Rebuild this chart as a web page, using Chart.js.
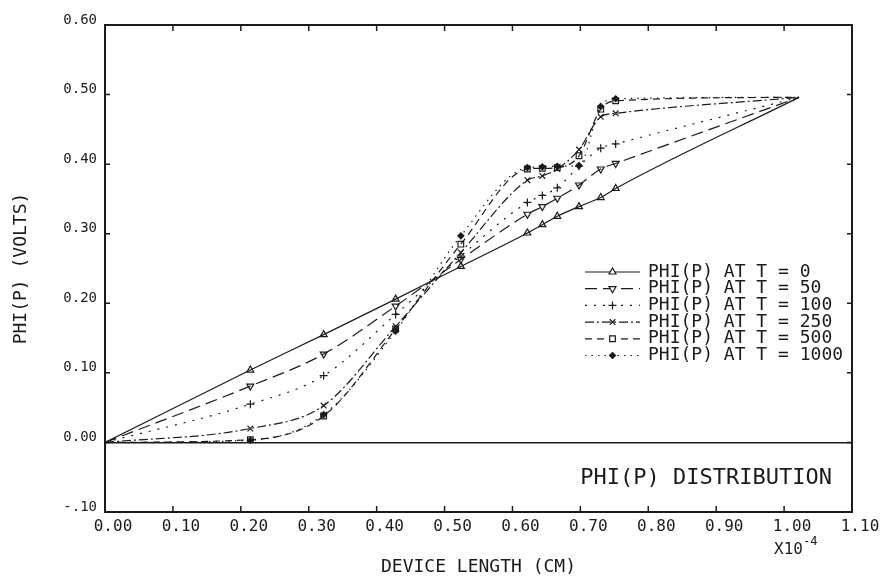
<!DOCTYPE html>
<html lang="en">
<head>
<meta charset="UTF-8">
<title>PHI(P) Distribution</title>
<script src="https://cdn.jsdelivr.net/npm/chart.js"></script>
<style>
  body { margin: 0; background: #fff; }
</style>
</head>
<body>
<canvas id="phiChart" width="881" height="578"></canvas>
<script>
// device length positions (x 1e-4 cm)
const positions = [0, 0.214, 0.322, 0.428, 0.524, 0.622, 0.644, 0.666, 0.698, 0.730, 0.752, 1.022];

// PHI(P) in volts for each time step
const phiT0    = [0, 0.104, 0.155, 0.206, 0.253, 0.301, 0.313, 0.325, 0.339, 0.352, 0.365, 0.496];
const phiT50   = [0, 0.081, 0.127, 0.196, 0.263, 0.328, 0.339, 0.351, 0.370, 0.393, 0.401, 0.496];
const phiT100  = [0, 0.055, 0.096, 0.184, 0.268, 0.345, 0.355, 0.366, 0.397, 0.423, 0.429, 0.496];
const phiT250  = [0, 0.020, 0.053, 0.167, 0.273, 0.377, 0.383, 0.393, 0.421, 0.468, 0.473, 0.496];
const phiT500  = [0, 0.004, 0.038, 0.163, 0.285, 0.393, 0.394, 0.395, 0.412, 0.479, 0.491, 0.496];
const phiT1000 = [0, 0.003, 0.040, 0.160, 0.297, 0.395, 0.396, 0.397, 0.398, 0.483, 0.494, 0.496];

const seriesLabels = ['PHI(P) AT T = 0', 'PHI(P) AT T = 50', 'PHI(P) AT T = 100',
                      'PHI(P) AT T = 250', 'PHI(P) AT T = 500', 'PHI(P) AT T = 1000'];

const xTickLabels = ['0.00', '0.10', '0.20', '0.30', '0.40', '0.50', '0.60',
                     '0.70', '0.80', '0.90', '1.00', '1.10'];
const yTickLabels = ['-.10', '0.00', '0.10', '0.20', '0.30', '0.40', '0.50', '0.60'];

const plotTitle = 'PHI(P) DISTRIBUTION';
const xTitle = 'DEVICE LENGTH (CM)';
const yTitle = 'PHI(P) (VOLTS)';

const ink = '#1b1b1b';
const mono = '"DejaVu Sans Mono", "Liberation Mono", monospace';

// no marker on the shared end points
const radii = positions.map((p, i) => (i === 0 || i === positions.length - 1) ? 0 : 4);

function makeSeries(label, values, style) {
    return Object.assign({
        label: label,
        data: positions.map((p, i) => ({ x: p, y: values[i] })),
        borderColor: ink,
        borderWidth: 1.2,
        pointBorderColor: ink,
        pointBorderWidth: 1.2,
        pointBackgroundColor: 'rgba(0,0,0,0)',
        pointRadius: radii,
        cubicInterpolationMode: 'monotone',
        fill: false,
    }, style);
}

const datasets = [
    makeSeries(seriesLabels[0], phiT0,    { borderDash: [], pointStyle: 'triangle' }),
    makeSeries(seriesLabels[1], phiT50,   { borderDash: [12, 6], pointStyle: 'triangle', pointRotation: 180 }),
    makeSeries(seriesLabels[2], phiT100,  { borderDash: [2, 7], pointStyle: 'cross' }),
    makeSeries(seriesLabels[3], phiT250,  { borderDash: [9, 3, 2, 3], pointStyle: 'crossRot' }),
    makeSeries(seriesLabels[4], phiT500,  { borderDash: [7, 5], pointStyle: 'rect' }),
    makeSeries(seriesLabels[5], phiT1000, { borderDash: [1.5, 5], pointStyle: 'rectRot', pointBackgroundColor: ink,
                                            pointRadius: radii.map(r => r ? 3 : 0) }),
];

// frame, inward ticks, legend and text labels
const framePlugin = {
    id: 'framePlugin',
    afterDatasetsDraw(chart) {
        const { ctx, chartArea: a, scales: { x, y } } = chart;
        ctx.save();
        ctx.setLineDash([]);
        ctx.strokeStyle = ink;
        ctx.lineWidth = 2;
        ctx.strokeRect(a.left, a.top, a.right - a.left, a.bottom - a.top);

        ctx.lineWidth = 1.5;
        ctx.beginPath();
        x.ticks.forEach(t => {
            const px = x.getPixelForValue(t.value);
            if (px < a.left + 2 || px > a.right - 2) return;
            ctx.moveTo(px, a.bottom); ctx.lineTo(px, a.bottom - 6);
            ctx.moveTo(px, a.top); ctx.lineTo(px, a.top + 6);
        });
        y.ticks.forEach(t => {
            const py = y.getPixelForValue(t.value);
            if (py < a.top + 2 || py > a.bottom - 2) return;
            ctx.moveTo(a.left, py); ctx.lineTo(a.left + 5, py);
            ctx.moveTo(a.right, py); ctx.lineTo(a.right - 5, py);
        });
        ctx.stroke();

        // legend
        ctx.font = '18px ' + mono;
        ctx.textBaseline = 'middle';
        ctx.textAlign = 'left';
        ctx.fillStyle = ink;
        chart.data.datasets.forEach((ds, i) => {
            const rowY = a.top + 247 + i * 16.7;
            const x0 = a.left + 480, x1 = a.left + 535;
            ctx.lineWidth = 1.2;
            ctx.setLineDash(ds.borderDash);
            ctx.beginPath();
            ctx.moveTo(x0, rowY); ctx.lineTo(x1, rowY);
            ctx.stroke();
            ctx.setLineDash([]);
            ctx.fillStyle = ds.pointStyle === 'rectRot' ? ink : '#fff';
            Chart.helpers.drawPoint(ctx, {
                pointStyle: ds.pointStyle,
                rotation: ds.pointRotation || 0,
                radius: ds.pointStyle === 'rectRot' ? 3 : 4,
                borderWidth: 1.2,
            }, (x0 + x1) / 2, rowY);
            ctx.fillStyle = ink;
            ctx.fillText(ds.label, a.left + 543, rowY);
        });

        // plot caption
        ctx.font = '22px ' + mono;
        ctx.textAlign = 'right';
        ctx.fillText(plotTitle, a.right - 20, a.bottom - 34);

        // x multiplier
        ctx.font = '16px ' + mono;
        ctx.textAlign = 'left';
        ctx.textBaseline = 'alphabetic';
        const mx = x.getPixelForValue(1.0) - 10;
        ctx.fillText('X10', mx, a.bottom + 42);
        ctx.font = '12px ' + mono;
        ctx.fillText('-4', mx + 29, a.bottom + 33);
        ctx.restore();
    }
};

new Chart(document.getElementById('phiChart'), {
    type: 'line',
    data: { datasets: datasets },
    options: {
        responsive: false,
        animation: false,
        layout: { padding: { top: 25, right: 29, left: 0, bottom: 0 } },
        plugins: {
            legend: { display: false },
            tooltip: { enabled: false },
        },
        scales: {
            x: {
                type: 'linear',
                min: 0,
                max: 1.1,
                afterFit: s => { s.height = 66; },
                grid: { color: 'rgba(0,0,0,0)', drawTicks: false },
                border: { display: false },
                ticks: {
                    stepSize: 0.1,
                    autoSkip: false,
                    maxRotation: 0,
                    padding: 5,
                    labelOffset: 8,
                    color: ink,
                    font: { family: mono, size: 16 },
                    callback: (v, i) => xTickLabels[i],
                },
                title: {
                    display: true,
                    text: xTitle,
                    color: ink,
                    font: { family: mono, size: 18 },
                    padding: { top: 10, bottom: 0 },
                },
            },
            y: {
                min: -0.1,
                max: 0.6,
                afterFit: s => { s.width = 105; },
                grid: {
                    drawTicks: false,
                    lineWidth: 1.5,
                    color: c => (c.tick && Math.abs(c.tick.value) < 1e-9) ? ink : 'rgba(0,0,0,0)',
                },
                border: { display: false },
                ticks: {
                    stepSize: 0.1,
                    autoSkip: false,
                    padding: 8,
                    labelOffset: -5,
                    color: ink,
                    font: { family: mono, size: 14 },
                    callback: (v, i) => yTickLabels[i],
                },
                title: {
                    display: true,
                    text: yTitle,
                    color: ink,
                    font: { family: mono, size: 18 },
                    padding: { top: 11, bottom: 0 },
                },
            },
        },
    },
    plugins: [framePlugin],
});
</script>
</body>
</html>
